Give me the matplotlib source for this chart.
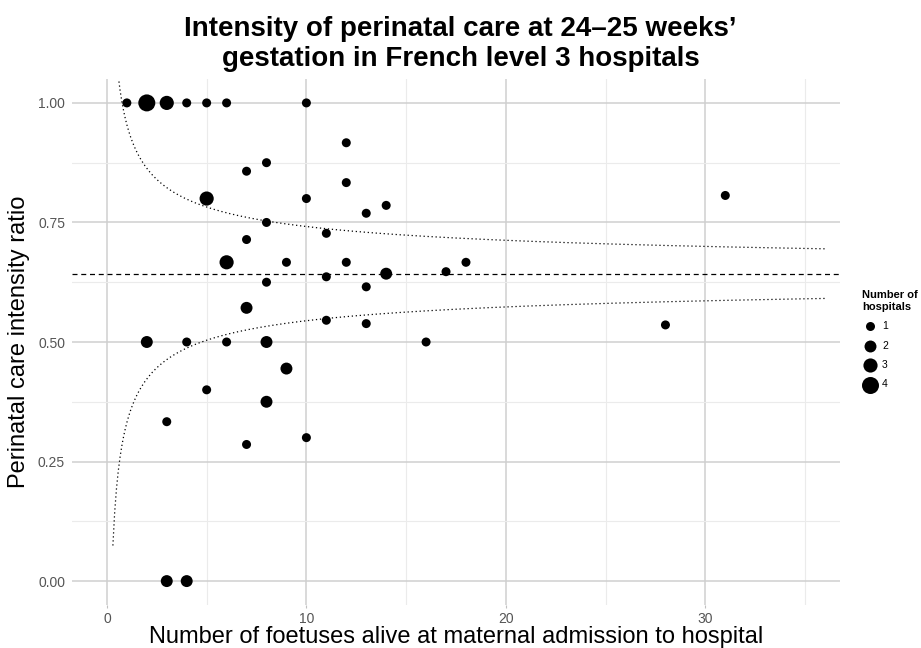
import numpy as np
import matplotlib.pyplot as plt
from matplotlib.ticker import MultipleLocator

plt.rcParams['font.family'] = ['Liberation Sans', 'DejaVu Sans']

# foetuses alive at admission, ratio, number of hospitals with that (n, ratio)
n_foetuses = [1, 2, 3, 4, 5, 6, 10,
              12, 8, 12, 7, 5, 10, 14, 13, 8, 11, 7, 31,
              6, 9, 12, 18, 17, 14, 11, 8, 13,
              7, 11, 13, 28, 2, 4, 6, 8, 16,
              9, 5, 8, 3, 7, 10, 3, 4]
ratio = [1.0, 1.0, 1.0, 1.0, 1.0, 1.0, 1.0,
         11/12, 7/8, 10/12, 6/7, 4/5, 8/10, 11/14, 10/13, 6/8, 8/11, 5/7, 25/31,
         4/6, 6/9, 8/12, 12/18, 11/17, 9/14, 7/11, 5/8, 8/13,
         4/7, 6/11, 7/13, 15/28, 0.5, 0.5, 0.5, 0.5, 0.5,
         4/9, 2/5, 3/8, 1/3, 2/7, 3/10, 0.0, 0.0]
n_hospitals = [1, 4, 3, 1, 1, 1, 1,
               1, 1, 1, 1, 3, 1, 1, 1, 1, 1, 1, 1,
               3, 1, 1, 1, 1, 2, 1, 1, 1,
               2, 1, 1, 1, 2, 1, 1, 2, 1,
               2, 1, 2, 1, 1, 1, 2, 2]

overall_ratio = 0.643   # dashed reference line
z_limit = 0.65          # width of the funnel limits
legend_counts = [1, 2, 3, 4]

size_map = {1: 42, 2: 74, 3: 104, 4: 150}

fig = plt.figure(figsize=(9.21, 6.48), dpi=100)
ax = fig.add_axes([72/921, 1 - 605/648, (840-72)/921, (605-79)/648])

# funnel limits
n_line = np.linspace(0.3, 36, 400)
se = np.sqrt(overall_ratio * (1 - overall_ratio) / n_line)
ax.plot(n_line, overall_ratio + z_limit * se, color='black', ls=(0, (1, 2.2)), lw=0.9)
ax.plot(n_line, overall_ratio - z_limit * se, color='black', ls=(0, (1, 2.2)), lw=0.9)
ax.axhline(overall_ratio, color='black', ls=(0, (4, 3)), lw=0.9)

sizes = [size_map[c] for c in n_hospitals]
ax.scatter(n_foetuses, ratio, s=sizes, color='black', linewidths=0, zorder=3)

ax.set_xlim(-1.75, 36.75)
ax.set_ylim(-0.05, 1.05)
ax.xaxis.set_major_locator(MultipleLocator(10))
ax.xaxis.set_minor_locator(MultipleLocator(5))
ax.yaxis.set_major_locator(MultipleLocator(0.25))
ax.yaxis.set_minor_locator(MultipleLocator(0.125))
ax.yaxis.set_major_formatter(plt.FuncFormatter(lambda v, p: f'{v:.2f}'))
ax.grid(which='major', color='#cfcfcf', lw=1.1)
ax.grid(which='minor', color='#ebebeb', lw=0.8)
ax.set_axisbelow(True)
for s in ax.spines.values():
    s.set_visible(False)
ax.tick_params(axis='x', which='major', length=2.5, color='#c0c0c0', pad=2.5,
               labelsize=10, labelcolor='#555555')
ax.tick_params(axis='y', which='major', length=0, pad=5, labelsize=10,
               labelcolor='#555555')
ax.tick_params(which='minor', length=0)

ax.set_xlabel('Number of foetuses alive at maternal admission to hospital',
              fontsize=17, labelpad=0)
ax.set_ylabel('Perinatal care intensity ratio', fontsize=17, labelpad=6)
fig.suptitle('Intensity of perinatal care at 24\u201325 weeks\u2019\n'
             'gestation in French level 3 hospitals',
             fontsize=20, fontweight='bold', y=0.975, linespacing=1.2)

handles = [ax.scatter([], [], s=size_map[c], color='black', linewidths=0)
           for c in legend_counts]
leg = fig.legend(handles, [str(c) for c in legend_counts],
                 title='Number of\nhospitals', loc='upper left',
                 bbox_to_anchor=(857/921, 1 - 285/648), frameon=False,
                 fontsize=7.5, title_fontproperties={'weight': 'bold', 'size': 8},
                 handletextpad=0.5, labelspacing=0.9, borderpad=0,
                 handlelength=1.4)
leg._legend_box.align = 'left'

fig.savefig('out.png', dpi=100)
